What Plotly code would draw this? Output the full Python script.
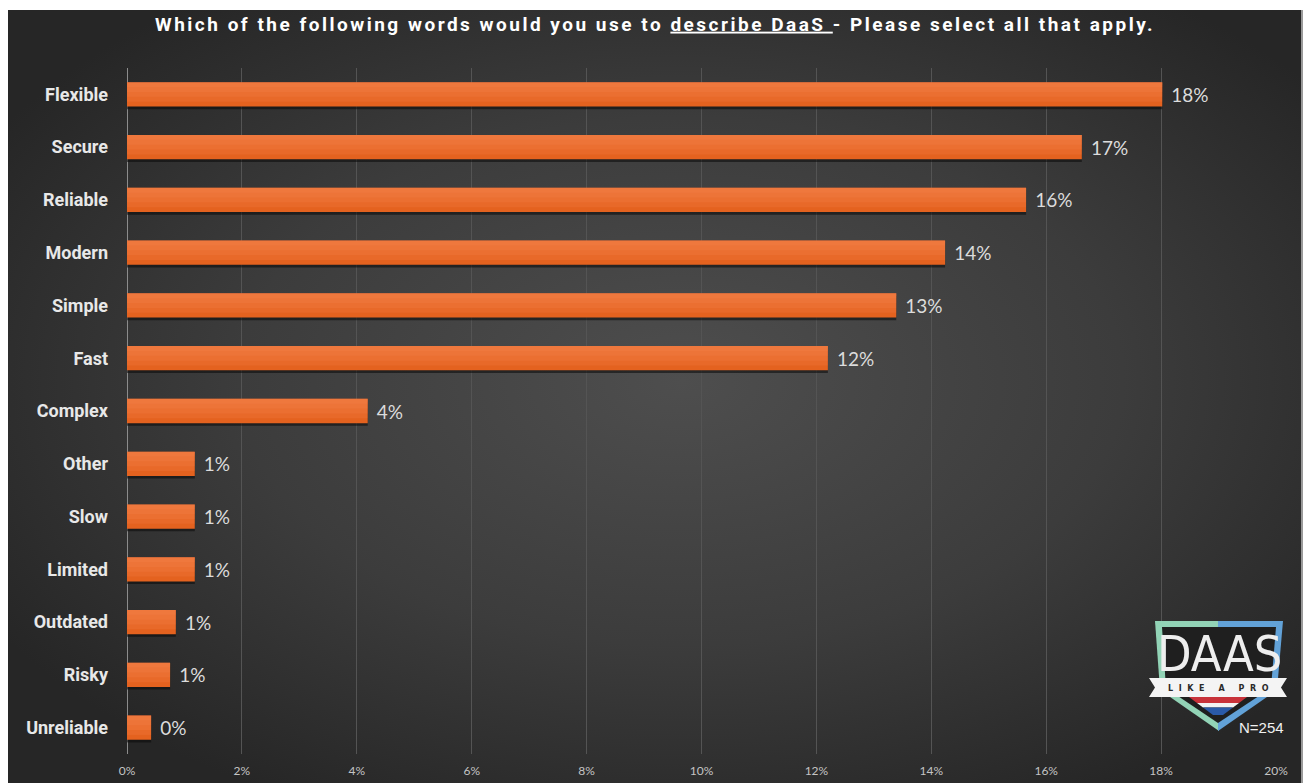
import base64
import plotly.graph_objects as go

# Survey answers (share of all selections, in percent)
words = ["Flexible", "Secure", "Reliable", "Modern", "Simple", "Fast", "Complex",
         "Other", "Slow", "Limited", "Outdated", "Risky", "Unreliable"]
shares = [18.02, 16.62, 15.65, 14.24, 13.39, 12.20, 4.19,
          1.18, 1.18, 1.18, 0.85, 0.75, 0.42]
x_ticks = [0, 2, 4, 6, 8, 10, 12, 14, 16, 18, 20]
x_tick_labels = [f"{v}%" for v in x_ticks]
respondents = 254

W, H = 1309, 783
L, R, T, B = 127, 33, 68, 29
PW, PH = W - L - R, H - T - B
BOTTOM = H - B


def P(x, y):
    """Pixel position -> paper coordinates."""
    return (x - L) / PW, (BOTTOM - y) / PH


def path(points):
    pts = [P(x, y) for x, y in points]
    return "M " + " L ".join(f"{a:.5f},{b:.5f}" for a, b in pts) + " Z"


# Dark radial-gradient panel behind the chart
svg = (
    '<svg xmlns="http://www.w3.org/2000/svg" width="1295" height="773" '
    'viewBox="0 0 1295 773" preserveAspectRatio="none">'
    '<defs><radialGradient id="g" cx="0.52" cy="0.48" r="0.62">'
    '<stop offset="0" stop-color="#4e4e4e"/>'
    '<stop offset="0.55" stop-color="#3c3c3c"/>'
    '<stop offset="1" stop-color="#262626"/>'
    '</radialGradient></defs>'
    '<rect width="1295" height="773" fill="url(#g)"/>'
    '<rect x="1293" y="0" width="2" height="773" fill="#9a9a9a"/>'
    '</svg>'
)
svg_uri = "data:image/svg+xml;base64," + base64.b64encode(svg.encode()).decode()

bar_w = 0.46
fig = go.Figure()

# soft shadow under each bar
fig.add_trace(go.Bar(
    y=words, x=shares, orientation="h", width=bar_w, offset=-bar_w / 2 + 0.05,
    marker=dict(color="rgba(10,10,10,0.55)", line=dict(width=0)),
    hoverinfo="skip", showlegend=False,
))
# main bars
fig.add_trace(go.Bar(
    y=words, x=shares, orientation="h", width=bar_w, offset=-bar_w / 2,
    marker=dict(color="#E4621F", line=dict(width=0)),
    texttemplate="\u00a0\u200a%{x:.0f}%", textposition="outside", cliponaxis=False,
    textfont=dict(family="Lato, Carlito, sans-serif", size=19, color="#dcdcdc"),
    showlegend=False,
))
# stacked translucent bands give the bars a top-lit sheen
for frac in (0.8, 0.6, 0.4, 0.2):
    fig.add_trace(go.Bar(
        y=words, x=shares, orientation="h", width=bar_w * frac, offset=-bar_w / 2,
        marker=dict(color="rgba(248,140,90,0.18)", line=dict(width=0)),
        hoverinfo="skip", showlegend=False,
    ))

shapes = []
# Logo shield: two-tone frame, dark inner, flag stripes and ribbon
shapes.append(dict(type="path", xref="paper", yref="paper", layer="above",
                   path=path([(1155, 621), (1219, 621), (1219, 731), (1160, 690)]),
                   fillcolor="#92d3b6", line=dict(width=0)))
shapes.append(dict(type="path", xref="paper", yref="paper", layer="above",
                   path=path([(1218, 621), (1283, 621), (1277, 690), (1218, 731)]),
                   fillcolor="#62a2d8", line=dict(width=0)))
shapes.append(dict(type="path", xref="paper", yref="paper", layer="above",
                   path=path([(1162, 627), (1276, 627), (1271, 688), (1218, 723), (1166, 688)]),
                   fillcolor="#1f1f1f", line=dict(width=0)))
shapes.append(dict(type="path", xref="paper", yref="paper", layer="above",
                   path=path([(1189, 697), (1247, 697), (1239, 703), (1197, 703)]),
                   fillcolor="#c8323a", line=dict(width=0)))
shapes.append(dict(type="path", xref="paper", yref="paper", layer="above",
                   path=path([(1197, 703), (1239, 703), (1233, 707.5), (1203, 707.5)]),
                   fillcolor="#f2f2f2", line=dict(width=0)))
shapes.append(dict(type="path", xref="paper", yref="paper", layer="above",
                   path=path([(1203, 707.5), (1233, 707.5), (1223, 715), (1213, 715)]),
                   fillcolor="#2a5aa8", line=dict(width=0)))
shapes.append(dict(type="path", xref="paper", yref="paper", layer="above",
                   path=path([(1149, 678), (1287, 678), (1281, 687.5), (1287, 697),
                              (1149, 697), (1155, 687.5)]),
                   fillcolor="#f4f4f4", line=dict(width=0)))

NB = "\u00a0"
ribbon = (NB * 2).join("LIKE") + NB * 5 + "A" + NB * 5 + (NB * 2).join("PRO")

x_d, y_d = P(1219, 654)
x_r, y_r = P(1218, 688)
x_n, y_n = P(1261, 727)
annotations = [
    dict(x=x_d, y=y_d, xref="paper", yref="paper", text="DAAS", showarrow=False,
         font=dict(family="Liberation Sans Narrow, DejaVu Sans Condensed, sans-serif",
                   size=50, color="#eeeeee"), xanchor="center", yanchor="middle"),
    dict(x=x_r, y=y_r, xref="paper", yref="paper", text=f"<b>{ribbon}</b>",
         showarrow=False, font=dict(family="DejaVu Sans, sans-serif", size=8, color="#2a2a2a"),
         xanchor="center", yanchor="middle"),
    dict(x=x_n, y=y_n, xref="paper", yref="paper", text=f"N={respondents}", showarrow=False,
         font=dict(family="Liberation Sans, Arial, sans-serif", size=15, color="#f0f0f0"),
         xanchor="center", yanchor="middle"),
]

title_text = ('<b><span style="letter-spacing:2.5px">Which of the following words would you use to '
              '<u>describe DaaS </u>- Please select all that apply.</span></b>')

fig.update_layout(
    width=W, height=H,
    margin=dict(l=L, r=R, t=T, b=B, pad=0, autoexpand=False),
    paper_bgcolor="#ffffff",
    plot_bgcolor="rgba(0,0,0,0)",
    barmode="overlay",
    title=dict(text=title_text, x=655 / W, xref="container", xanchor="center",
               y=1 - 24 / H, yref="container", yanchor="middle", automargin=False,
               font=dict(family="Roboto, sans-serif", size=19, color="#ffffff")),
    images=[dict(source=svg_uri, xref="paper", yref="paper",
                 x=(8 - L) / PW, y=(BOTTOM - 10) / PH,
                 sizex=1295 / PW, sizey=773 / PH,
                 sizing="stretch", xanchor="left", yanchor="top", layer="below")],
    shapes=shapes,
    annotations=annotations,
    xaxis=dict(range=[0, 20], tickvals=x_ticks, ticktext=x_tick_labels,
               showgrid=True, gridcolor="#545454", gridwidth=1,
               zeroline=True, zerolinecolor="#8c8c8c", zerolinewidth=1,
               showline=False, ticks="", ticklabelstandoff=8, automargin=False,
               tickfont=dict(family="Lato, Carlito, sans-serif", size=12, color="#c4c4c4")),
    yaxis=dict(categoryorder="array", categoryarray=words, autorange="reversed",
               showgrid=False, zeroline=False, showline=False, ticks="",
               ticklabelstandoff=18, automargin=False,
               tickfont=dict(family="Roboto, sans-serif", size=18, color="#e8e8e8",
                             weight="bold")),
)

fig.write_html("out.html")
